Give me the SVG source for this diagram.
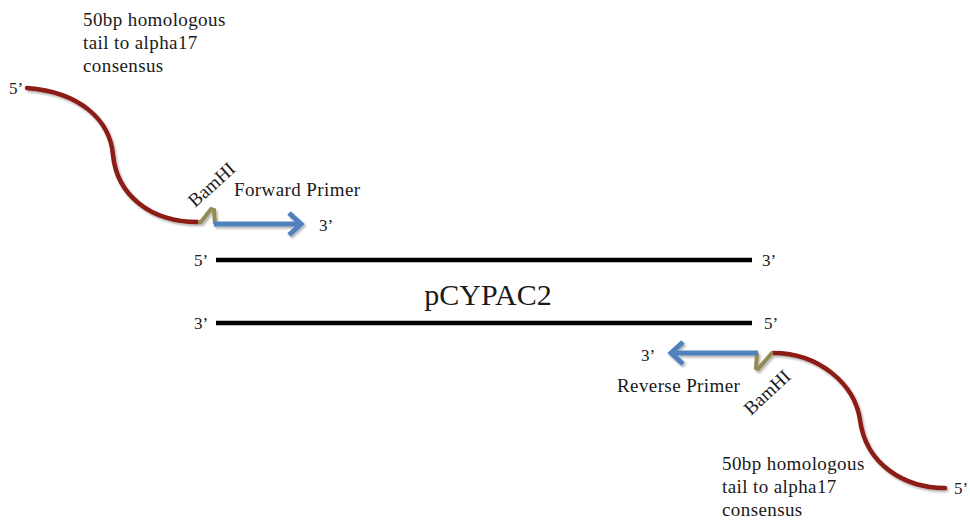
<svg xmlns="http://www.w3.org/2000/svg" width="970" height="522" viewBox="0 0 970 522">
<style>
.t{font-family:"Liberation Serif","Times New Roman",serif;fill:#1a1a1a;}
.lbl{font-size:19px;letter-spacing:0.4px;}
.end{font-size:17px;}
.bamt{font-size:19px;}
.tail{fill:none;stroke:#8b1a12;stroke-width:4.5;stroke-linecap:round;}
.bam{fill:none;stroke:#948a54;stroke-width:4;stroke-linejoin:miter;}
.primer{fill:none;stroke:#4f81bd;stroke-width:5;stroke-linecap:butt;}
.strand{stroke:#000;stroke-width:4.5;}
</style>
<defs>
<filter id="sh" x="-10%" y="-10%" width="120%" height="130%">
<feDropShadow dx="1.5" dy="2" stdDeviation="1" flood-color="#000" flood-opacity="0.3"/>
</filter>
</defs>

<g id="plasmid">
<line class="strand" x1="216" y1="260" x2="752" y2="260"/>
<line class="strand" x1="216" y1="323" x2="752" y2="323"/>
<text class="t end" x="194" y="266">5’</text>
<text class="t end" x="762" y="266">3’</text>
<text class="t end" x="194" y="329">3’</text>
<text class="t end" x="764" y="329">5’</text>
<text class="t" x="488" y="305" font-size="30" text-anchor="middle">pCYPAC2</text>
</g>

<g id="forward-primer" filter="url(#sh)">
<path class="tail" d="M27,88 C80,92 110,120 113,155 C117,195 150,222 198,222"/>
<polyline class="bam" points="198,222 201,222 211,209 214,210 215,224"/>
<path class="primer" d="M214,224 H300 M289,213 L301,224 L289,235"/>
</g>
<g id="forward-labels">
<text class="t lbl" x="83" y="26">50bp homologous</text>
<text class="t lbl" x="83" y="49">tail to alpha17</text>
<text class="t lbl" x="83" y="72">consensus</text>
<text class="t end" x="9" y="94">5’</text>
<text class="t lbl" x="234" y="196" letter-spacing="0.6">Forward Primer</text>
<text class="t end" x="319" y="231">3’</text>
<text class="t bamt" x="0" y="0" transform="translate(195,208) rotate(-42)">BamHI</text>
</g>

<g id="reverse-primer" filter="url(#sh)">
<path class="tail" d="M773,353 C820,353 855,385 860,420 C866,465 905,488 945,488"/>
<polyline class="bam" points="773,353 772,353 758,369 756,368 757,353"/>
<path class="primer" d="M758,353 H672 M683,342 L671,353 L683,364"/>
</g>
<g id="reverse-labels">
<text class="t end" x="641" y="361">3’</text>
<text class="t lbl" x="617" y="392" letter-spacing="0.6">Reverse Primer</text>
<text class="t bamt" x="0" y="0" transform="translate(751,416) rotate(-43)">BamHI</text>
<text class="t lbl" x="722" y="470">50bp homologous</text>
<text class="t lbl" x="722" y="493">tail to alpha17</text>
<text class="t lbl" x="722" y="516">consensus</text>
<text class="t end" x="954" y="494">5’</text>
</g>
</svg>
